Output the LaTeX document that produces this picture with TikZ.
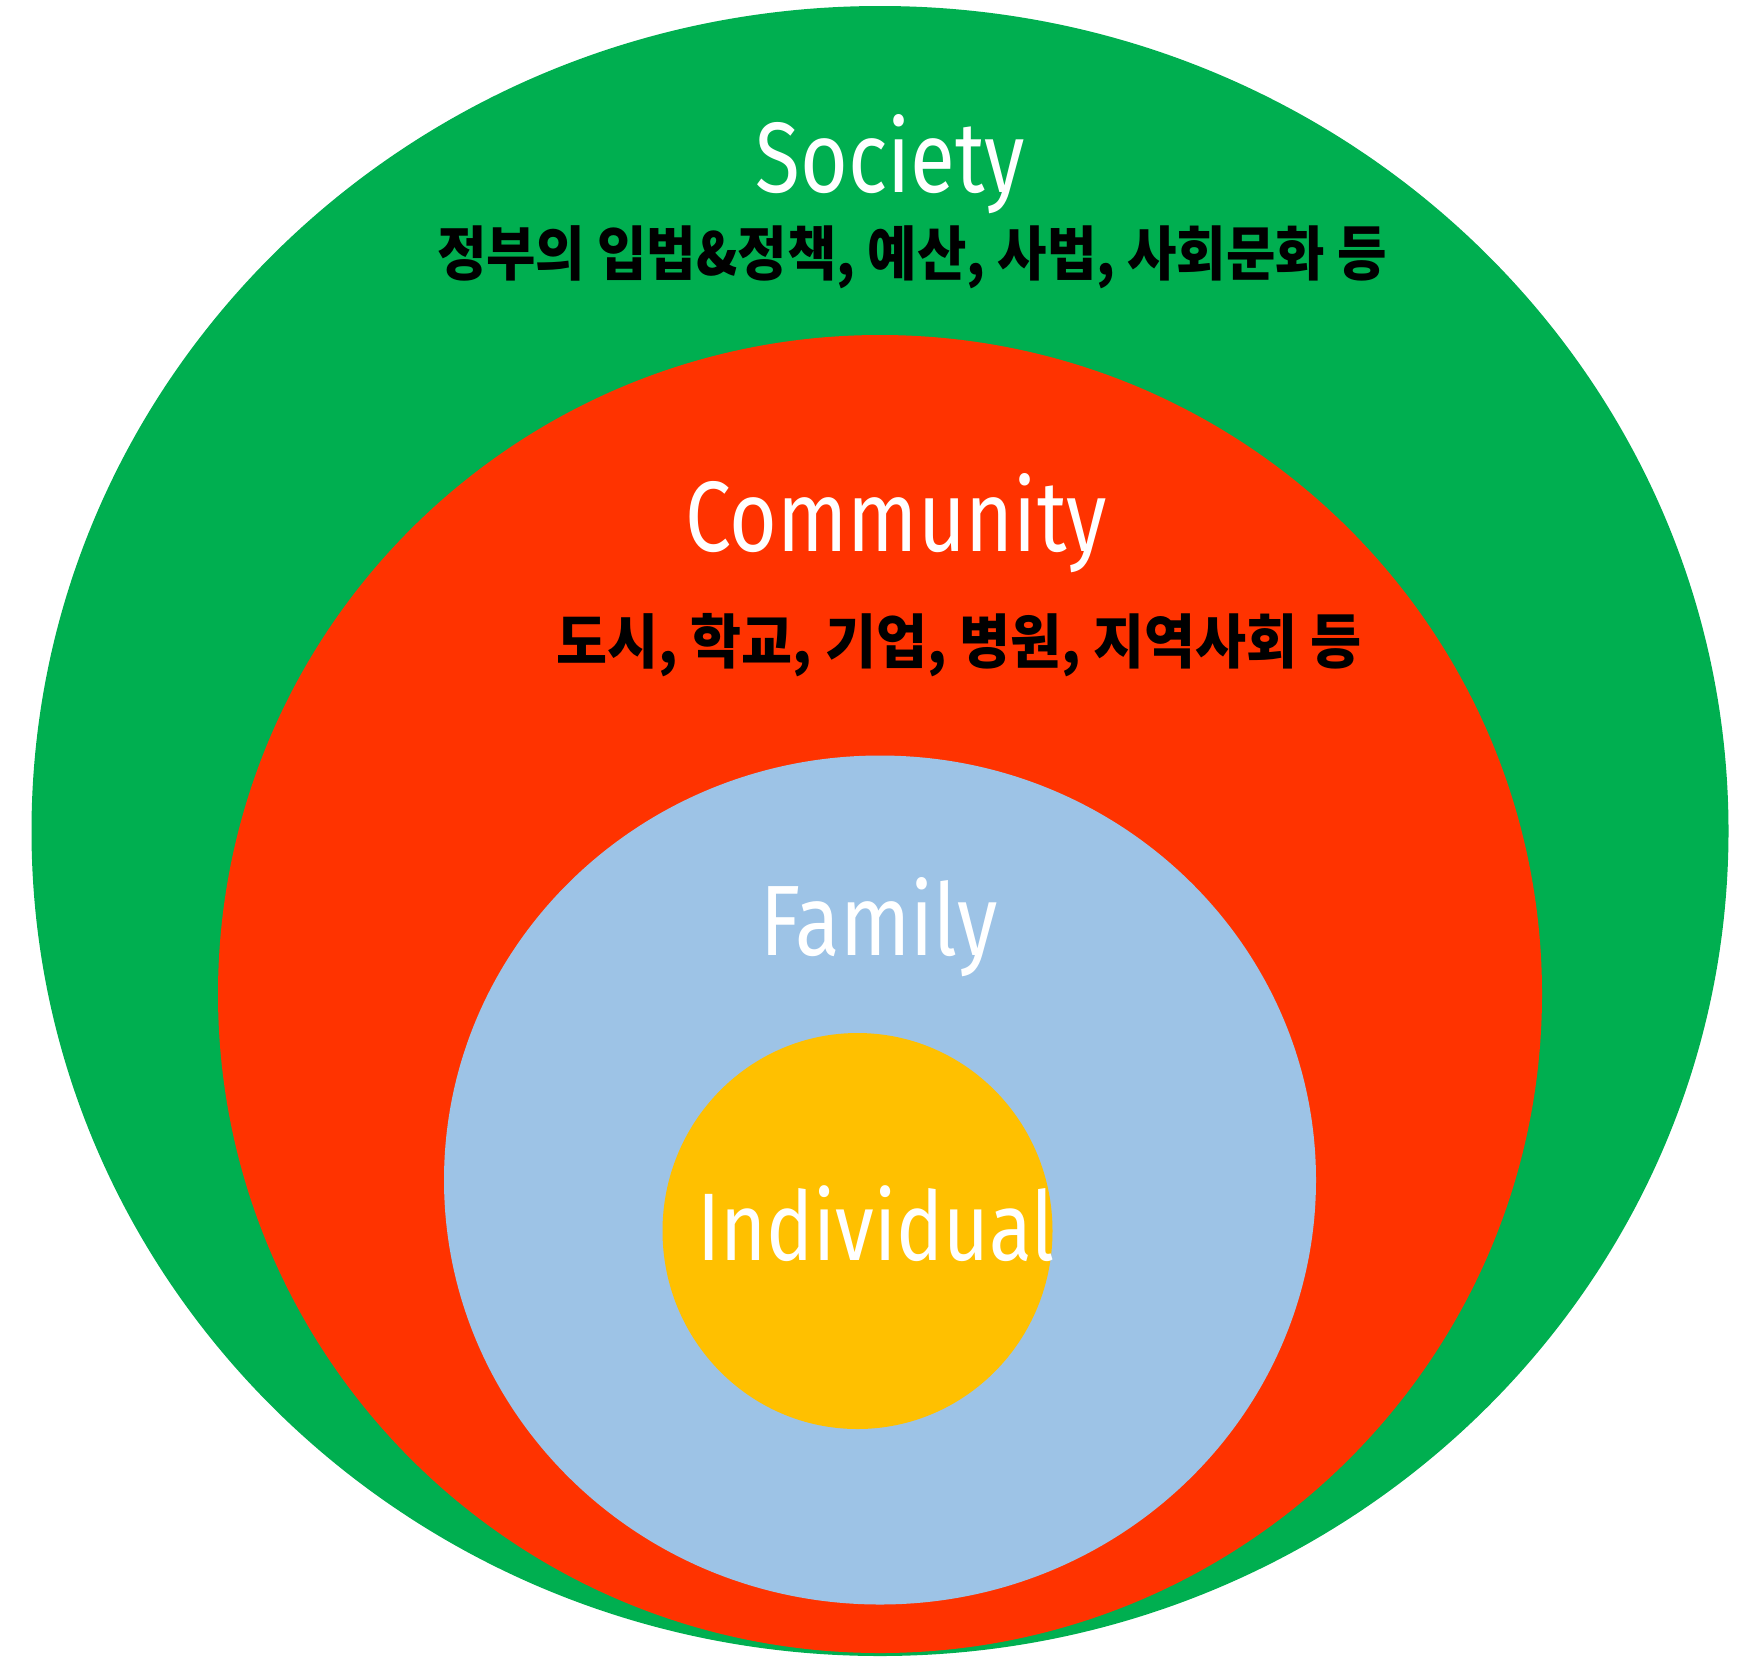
\documentclass[tikz,border=0pt]{standalone}
\usepackage{fontspec}
\setmainfont{Fira Sans}[FakeStretch=0.82]
\newfontfamily\korfont{Noto Sans CJK KR}[FakeStretch=0.91]
\newfontfamily\korwidefont{Noto Sans CJK KR}[FakeStretch=0.94]
\usetikzlibrary{shapes.geometric}

\definecolor{societygreen}{HTML}{00AF50}
\definecolor{communityred}{HTML}{FF3300}
\definecolor{familyblue}{HTML}{9DC3E6}
\definecolor{individualyellow}{HTML}{FFC000}

\begin{document}
\begin{tikzpicture}[x=1pt,y=-1pt,
                    ring/.style={ellipse,draw=none,inner sep=0pt},
                    title/.style={text=white,anchor=base,font=\fontsize{100}{110}\selectfont},
                    examples/.style={text=black,font=\korfont\bfseries\fontsize{59}{63}\selectfont}]
  \useasboundingbox (0,0) rectangle (1752,1657);

  \node[ring,fill=societygreen,minimum width=1697pt,minimum height=1650pt]  (society)    at (880,831)    {};
  \node[ring,fill=communityred,minimum width=1324pt,minimum height=1318pt]  (community)  at (880,994)    {};
  \node[ring,fill=familyblue,minimum width=872pt,minimum height=849pt]      (family)     at (880,1180)   {};
  \node[ring,fill=individualyellow,minimum width=390pt,minimum height=396pt] (individual) at (857.5,1231) {};

  \node[title] (societylabel)    at (890,192)  {Society};
  \node[examples] (societyex)    at (912,257)  {정부의 입법\&정책, 예산, 사법, 사회문화 등};
  \node[title] (communitylabel)  at (896,551)  {Community};
  \node[examples,font=\korwidefont\bfseries\fontsize{59}{63}\selectfont] (communityex) at (959,645) {도시, 학교, 기업, 병원, 지역사회 등};
  \node[title] (familylabel)     at (879,955)  {Family};
  \node[title,font=\fontsize{96}{106}\selectfont] (individuallabel) at (876,1260) {Individual};
\end{tikzpicture}
\end{document}
